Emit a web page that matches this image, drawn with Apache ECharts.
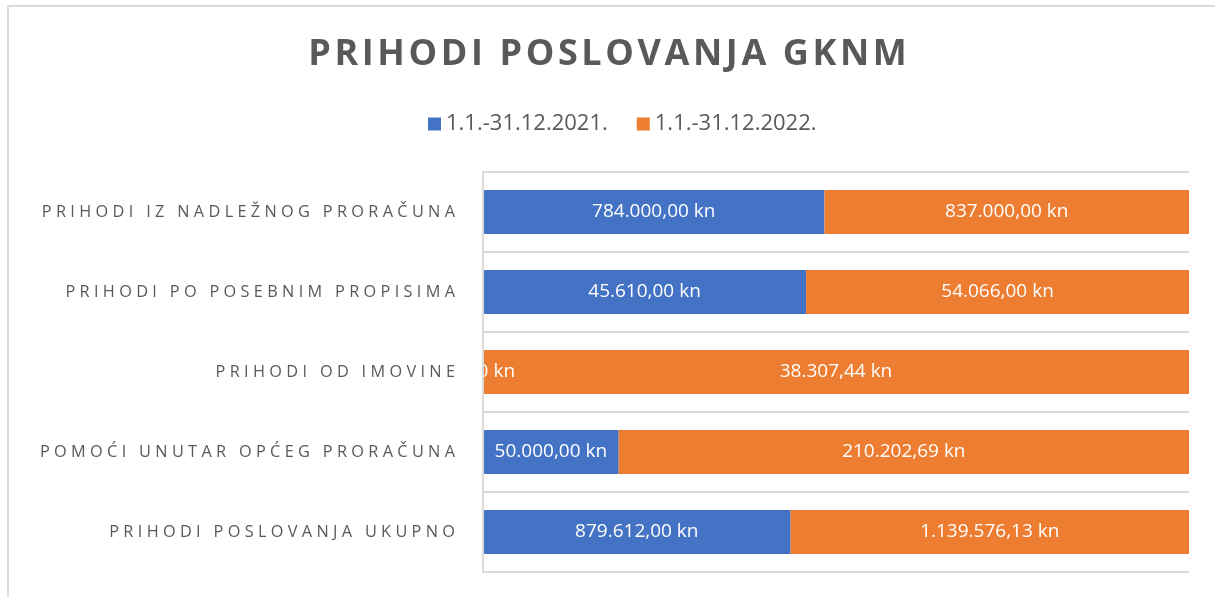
<!DOCTYPE html>
<html>
<head>
<meta charset="utf-8">
<script src="https://cdn.jsdelivr.net/npm/echarts@6/dist/echarts.min.js"></script>
<style>
  html, body { margin: 0; padding: 0; background: #fff; }
  #chart { width: 1215px; height: 597px; }
</style>
</head>
<body>
<div id="chart"></div>
<script>
var categories = [
    'PRIHODI IZ NADLEŽNOG PRORAČUNA',
    'PRIHODI PO POSEBNIM PROPISIMA',
    'PRIHODI OD IMOVINE',
    'POMOĆI UNUTAR OPĆEG PRORAČUNA',
    'PRIHODI POSLOVANJA UKUPNO'
];
var seriesNames = ['1.1.-31.12.2021.', '1.1.-31.12.2022.'];
var values2021 = [784000.00, 45610.00, 0, 50000.00, 879612.00];
var values2022 = [837000.00, 54066.00, 38307.44, 210202.69, 1139576.13];

// broj u hrvatskom formatu: 1.139.576,13 kn
function formatKn(v) {
    var parts = v.toFixed(2).split('.');
    var int = parts[0].replace(/\B(?=(\d{3})+(?!\d))/g, '.');
    return int + ',' + parts[1] + ' kn';
}

function share(own, other) {
    var ret = [];
    for (var i = 0; i < own.length; i++) {
        var total = own[i] + other[i];
        ret.push({ value: total ? own[i] / total * 100 : 0, raw: own[i] });
    }
    return ret;
}

// razmak izmedju slova (kao u Excelu)
function spaced(s) {
    return s.split('').join('\u2009\u200A');
}

var myChart = echarts.init(document.getElementById('chart'));

var option = {
    animation: false,
    color: ['#4472C4', '#ED7D31'],
    title: {
        text: 'PRIHODI POSLOVANJA GKNM'.split('').join('\u200A'),
        left: 'center',
        top: 32,
        textStyle: {
            fontFamily: 'Open Sans',
            fontWeight: 'bold',
            fontSize: 36,
            color: '#595959'
        }
    },
    legend: {
        data: seriesNames,
        top: 108,
        left: 423,
        itemWidth: 13,
        itemHeight: 13,
        itemGap: 29,
        icon: 'rect',
        textStyle: {
            fontFamily: 'Open Sans',
            fontSize: 22,
            color: '#595959'
        }
    },
    graphic: [{
        type: 'rect',
        shape: { x: 8, y: 6, width: 1300, height: 700 },
        style: { fill: 'none', stroke: '#D9D9D9', lineWidth: 2 },
        silent: true
    }],
    grid: {
        left: 483,
        right: 26,
        top: 172,
        bottom: 25
    },
    xAxis: {
        type: 'value',
        min: 0,
        max: 100,
        show: false
    },
    yAxis: {
        type: 'category',
        data: categories,
        inverse: true,
        z: 5,
        axisLine: { show: true, lineStyle: { color: '#D9D9D9', width: 2 } },
        axisTick: { show: false },
        splitLine: { show: true, lineStyle: { color: '#D9D9D9', width: 2 } },
        axisLabel: {
            margin: 28,
            fontFamily: 'Open Sans',
            fontSize: 16.3,
            color: '#595959',
            formatter: spaced
        }
    },
    series: [{
        name: seriesNames[0],
        type: 'bar',
        stack: 'total',
        barWidth: 44,
        data: share(values2021, values2022),
        label: {
            show: true,
            position: 'inside',
            color: '#fff',
            fontFamily: 'Open Sans',
            fontSize: 19,
            formatter: function (p) { return formatKn(p.data.raw); }
        }
    }, {
        name: seriesNames[1],
        type: 'bar',
        stack: 'total',
        barWidth: 44,
        data: share(values2022, values2021),
        label: {
            show: true,
            position: 'inside',
            color: '#fff',
            fontFamily: 'Open Sans',
            fontSize: 19,
            formatter: function (p) { return formatKn(p.data.raw); }
        }
    }]
};

myChart.setOption(option);
window.addEventListener('resize', function () {
    myChart.resize();
});
</script>
</body>
</html>
